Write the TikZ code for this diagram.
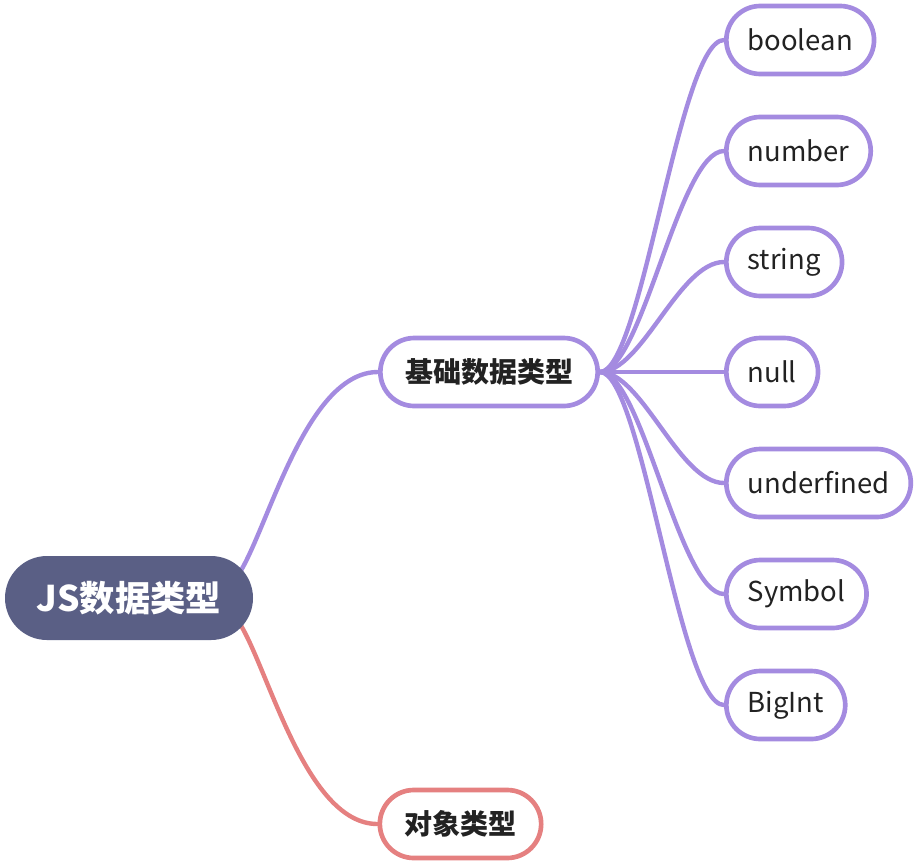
\documentclass[tikz,border=0pt]{standalone}
\usepackage{fontspec}
\setmainfont{Noto Sans CJK SC}
\usetikzlibrary{calc}
\pgfdeclarelayer{back}
\pgfsetlayers{back,main}
\definecolor{rootblue}{HTML}{5A5F85}
\definecolor{lilac}{HTML}{A48BE0}
\definecolor{coral}{HTML}{E58080}
\definecolor{ink}{HTML}{222222}
\tikzset{
	rootnode/.style={fill=rootblue, text=white, rounded corners=31.5pt, minimum height=63pt, minimum width=186pt, font=\fontsize{26.5}{31}\selectfont\bfseries},
	branch/.style={line width=3.5pt, fill=white, text=ink, rounded corners=25.5pt, minimum height=51pt, inner xsep=18.5pt, font=\fontsize{21}{25}\selectfont\bfseries},
	leaf/.style={draw=lilac, line width=3.5pt, fill=white, text=ink, rounded corners=25.5pt, minimum height=51pt, inner xsep=16pt, font=\fontsize{20.6}{25}\selectfont, anchor=west},
	link/.style={line width=3.3pt, line cap=round}
}

\begin{document}
\begin{tikzpicture}[x=0.75pt, y=-0.75pt]
			%%%%% START %%%%%
			\useasboundingbox (0, 0) rectangle (916, 864);
			
			\node[rootnode] (root) at (129, 598) {JS数据类型};
			\node[branch, draw=lilac] (basic) at (489, 372) {基础数据类型};
			\node[branch, draw=coral] (object) at (460.5, 824) {对象类型};
			
			\node[leaf] (boolean) at (724, 40) {boolean};
			\node[leaf] (number) at (724, 151) {number};
			\node[leaf] (string) at (724, 262) {string};
			\node[leaf] (null) at (724, 372) {null};
			\node[leaf] (undef) at (724, 483) {underfined};
			\node[leaf] (symbol) at (724, 594) {Symbol};
			\node[leaf] (bigint) at (724, 705) {BigInt};
			
			\begin{pgfonlayer}{back}
			\draw[link, lilac] ($(root.east)+(-12, -28)$) .. controls +(29, -50) and +(-70, 0) .. (basic.west);
			\draw[link, coral] ($(root.east)+(-12, 28)$) .. controls +(29, 50) and +(-70, 0) .. (object.west);
			\foreach \leafname in {boolean, number, string, null, undef, symbol, bigint}
				\draw[link, lilac] (basic.east) .. controls +(42, 0) and +(-45, 0) .. (\leafname.west);
			\end{pgfonlayer}
			
			%%%%% END %%%%%
\end{tikzpicture}
\end{document}
